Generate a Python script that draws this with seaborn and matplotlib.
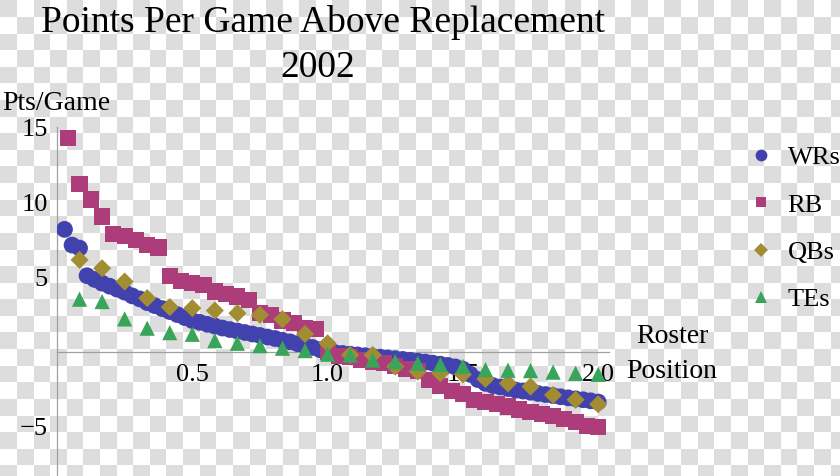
import numpy as np
import pandas as pd
import seaborn as sns
import matplotlib.pyplot as plt
from matplotlib.lines import Line2D
from matplotlib.ticker import MultipleLocator

# Points per game above replacement, by roster rank (2002)
wr_pts = [8.2, 7.15, 6.95, 5.1, 4.85, 4.6, 4.4, 4.2, 4.0, 3.75, 3.55, 3.3,
          3.1, 2.9, 2.7, 2.5, 2.3, 2.1, 1.98, 1.85, 1.73, 1.6, 1.5, 1.4,
          1.3, 1.2, 1.1, 1.0, 0.9, 0.78, 0.68, 0.55, 0.42, 0.3, 0.15, 0.0,
          -0.05, -0.1, -0.15, -0.2, -0.25, -0.3, -0.35, -0.4, -0.45, -0.5, -0.56, -0.62,
          -0.68, -0.75, -0.82, -0.9, -1.0, -1.15, -1.5, -1.85, -2.1, -2.25, -2.35, -2.45,
          -2.55, -2.62, -2.7, -2.78, -2.85, -2.92, -3.0, -3.07, -3.14, -3.2, -3.27, -3.35]
rb_pts = [14.3, 11.25, 10.2, 9.06, 7.9, 7.77, 7.5, 7.17, 6.99, 5.09, 4.76, 4.6,
          4.49, 4.04, 3.88, 3.71, 3.48, 2.59, 2.48, 2.1, 1.92, 1.59, 1.52, 0.02,
          -0.25, -0.35, -0.55, -0.65, -0.75, -0.95, -1.15, -1.3, -1.9, -2.3, -2.6, -2.8,
          -3.2, -3.35, -3.5, -3.65, -3.85, -4.0, -4.15, -4.3, -4.5, -4.7, -4.95, -5.0]
qb_pts = [6.16, 5.6, 4.71, 3.6, 3.0, 2.93, 2.77, 2.59, 2.48, 2.19, 1.2, 0.58,
          -0.2, -0.2, -0.98, -1.32, -1.42, -1.5, -1.8, -2.1, -2.32, -2.88, -3.2, -3.5]
te_pts = [3.53, 3.37, 2.21, 1.59, 1.29, 1.18, 0.76, 0.58, 0.42, 0.25, 0.09, -0.15,
          -0.2, -0.54, -0.65, -0.76, -0.85, -0.96, -1.18, -1.22, -1.25, -1.35, -1.43, -1.5]

# starters per position in a 12-team league -> roster position = rank / slots
series = [("WRs", wr_pts, 36), ("RB", rb_pts, 24), ("QBs", qb_pts, 12), ("TEs", te_pts, 12)]

colors = {"WRs": "#4242ae", "RB": "#ac3d7a", "QBs": "#a38d33", "TEs": "#38a55a"}
markers = {"WRs": "o", "RB": "s", "QBs": "D", "TEs": "^"}
sizes = {"WRs": 145, "RB": 135, "QBs": 85, "TEs": 120}

frames = []
for name, vals, slots in series:
    rank = np.arange(1, len(vals) + 1)
    frames.append(pd.DataFrame({"pos": name, "x": rank / slots, "y": vals}))
df = pd.concat(frames, ignore_index=True)

sns.set_style("white")
plt.rcParams["font.family"] = ["Liberation Serif", "DejaVu Serif"]
plt.rcParams["text.color"] = "black"
plt.rcParams["xtick.color"] = "#a0a0a0"
plt.rcParams["ytick.color"] = "#a0a0a0"
plt.rcParams["xtick.labelcolor"] = "black"
plt.rcParams["ytick.labelcolor"] = "black"

fig = plt.figure(figsize=(8.4, 4.76), dpi=100)

# transparency checkerboard behind everything
h, w = 476, 840
yy, xx = np.mgrid[0:h, 0:w]
check = ((yy / 16.6).astype(int) + (xx / 16.6).astype(int)) % 2
img = np.where(check[..., None] == 0, 0.87, 1.0) * np.ones(3)
fig.figimage(img, xo=0, yo=0, origin="upper", zorder=-10)

ax = fig.add_axes([57 / 840, 0, 552 / 840, 349 / 476])
ax.patch.set_alpha(0)

sns.scatterplot(data=df, x="x", y="y", hue="pos", style="pos", size="pos",
                palette=colors, markers=markers, sizes=sizes, linewidth=0,
                legend=False, ax=ax, zorder=3)

ax.set_xlim(0, 2.04)
ax.set_ylim(-8.3, 15.05)
ax.set_xlabel("")
ax.set_ylabel("")
ax.spines["top"].set_visible(False)
ax.spines["right"].set_visible(False)
ax.spines["bottom"].set_position(("data", 0))
for s in ["left", "bottom"]:
    ax.spines[s].set_color("#a0a0a0")
    ax.spines[s].set_linewidth(0.9)

ax.set_xticks([0.5, 1.0, 1.5, 2.0])
ax.set_xticklabels(["0.5", "1.0", "1.5", "2.0"])
ax.xaxis.set_minor_locator(MultipleLocator(0.1))
ax.set_yticks([-5, 5, 10, 15])
ax.set_yticklabels(["\u22125", "5", "10", "15"])
ax.yaxis.set_minor_locator(MultipleLocator(1))
ax.tick_params(which="both", direction="in", width=0.8)
ax.tick_params(which="major", length=5, labelsize=19)
ax.tick_params(which="minor", length=3)
ax.tick_params(axis="x", which="major", pad=9)
ax.tick_params(axis="y", which="major", pad=6.5)

fig.text(323 / 840, 1 - 32 / 476, "Points Per Game Above Replacement",
         ha="center", va="baseline", fontsize=27)
fig.text(318 / 840, 1 - 77 / 476, "2002", ha="center", va="baseline", fontsize=27)
fig.text(2 / 840, 1 - 110 / 476, "Pts/Game", ha="left", va="baseline", fontsize=20)
fig.text(672 / 840, 1 - 343 / 476, "Roster", ha="center", va="baseline", fontsize=20)
fig.text(672 / 840, 1 - 378 / 476, "Position", ha="center", va="baseline", fontsize=20)

leg_ms = {"WRs": 8.5, "RB": 7.6, "QBs": 7, "TEs": 8.5}
handles = [Line2D([], [], linestyle="none", marker=markers[n], markersize=leg_ms[n],
                  markerfacecolor=colors[n], markeredgewidth=0, label=n)
           for n, _, _ in series]
ax.legend(handles=handles, loc="upper left", bbox_to_anchor=(748 / 840, 1 - 146 / 476),
          bbox_transform=fig.transFigure, frameon=False, fontsize=19,
          borderpad=0, borderaxespad=0, handlelength=1, handletextpad=0.5,
          labelspacing=0.9)

fig.savefig("out.png", dpi=100)
